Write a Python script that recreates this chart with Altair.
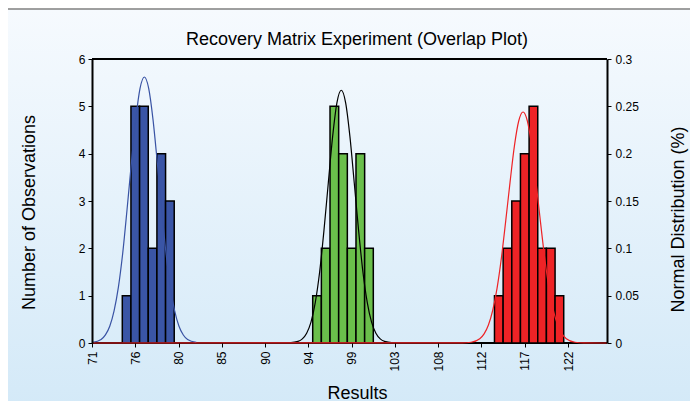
import altair as alt
import pandas as pd

# x positions are bin numbers along the category axis (bin 0 = label "71")
tick_bins = [0, 5, 10, 15, 20, 25, 30, 35, 40, 45, 50, 55]
tick_labels = ["71", "76", "80", "85", "90", "94", "99", "103", "108", "112", "117", "122"]

blue_bins = [4, 5, 6, 7, 8, 9]
blue_counts = [1, 5, 5, 2, 4, 3]
green_bins = [26, 27, 28, 29, 30, 31, 32]
green_counts = [1, 2, 5, 4, 2, 4, 2]
red_bins = [47, 48, 49, 50, 51, 52, 53, 54]
red_counts = [1, 2, 3, 4, 5, 2, 2, 1]

blue_curve_x = [0.05, 1.05, 1.55, 2.05, 2.55, 3.05, 3.55, 4.05, 4.55, 5.05, 5.55, 6.05,
                6.55, 7.05, 7.55, 8.05, 8.55, 9.05, 9.55, 10.05, 10.55, 11.05, 12.05]
blue_curve_y = [0.0006, 0.0037, 0.0085, 0.0177, 0.0340, 0.0590, 0.0950, 0.1410, 0.1900, 0.2360, 0.2690, 0.2810,
                0.2690, 0.2360, 0.1900, 0.1410, 0.0950, 0.0590, 0.0340, 0.0177, 0.0085, 0.0037, 0.0006]
green_curve_x = [22.8, 23.8, 24.3, 24.8, 25.3, 25.8, 26.3, 26.8, 27.3, 27.8, 28.3, 28.8,
                 29.3, 29.8, 30.3, 30.8, 31.3, 31.8, 32.3, 32.8, 33.3, 33.8, 34.8]
green_curve_y = [0.0002, 0.0017, 0.0044, 0.0104, 0.0220, 0.0430, 0.0750, 0.1190, 0.1690, 0.2180, 0.2540, 0.2670,
                 0.2540, 0.2180, 0.1690, 0.1190, 0.0750, 0.0430, 0.0220, 0.0104, 0.0044, 0.0017, 0.0002]
red_curve_x = [0, 42.8, 43.8, 44.8, 45.3, 45.8, 46.3, 46.8, 47.3, 47.8, 48.3, 48.8, 49.3, 49.8,
               50.3, 50.8, 51.3, 51.8, 52.3, 52.8, 53.3, 53.8, 54.3, 54.8, 55.8, 56.8, 59.5]
red_curve_y = [0, 0.0001, 0.0008, 0.0045, 0.0096, 0.0190, 0.0346, 0.0580, 0.0900, 0.1290, 0.1700, 0.2080, 0.2345, 0.2440,
               0.2345, 0.2080, 0.1700, 0.1290, 0.0900, 0.0580, 0.0346, 0.0190, 0.0096, 0.0045, 0.0008, 0.0001, 0]

chart_title = "Recovery Matrix Experiment (Overlap Plot)"

bars = pd.concat([
    pd.DataFrame({"bin": blue_bins, "count": blue_counts, "sample": "blue"}),
    pd.DataFrame({"bin": green_bins, "count": green_counts, "sample": "green"}),
    pd.DataFrame({"bin": red_bins, "count": red_counts, "sample": "red"}),
], ignore_index=True)

curves = pd.concat([
    pd.DataFrame({"x": blue_curve_x, "y": blue_curve_y, "curve": "blue"}),
    pd.DataFrame({"x": green_curve_x, "y": green_curve_y, "curve": "green"}),
    pd.DataFrame({"x": red_curve_x, "y": red_curve_y, "curve": "red"}),
], ignore_index=True)
curves["order"] = range(len(curves))

W, H = 515, 284
FONT = "Liberation Sans"

label_expr = "[" + ",".join("'" + t + "'" for t in tick_labels) + "][round(datum.value / 5)]"

x_scale = alt.Scale(domain=[0, 59.5], nice=False, zero=False)

one = pd.DataFrame({"a": [0]})

bg = alt.Chart(one).mark_rect(
    fill={"gradient": "linear", "x1": 0, "y1": 0, "x2": 0, "y2": 1,
          "stops": [{"offset": 0, "color": "#F6FAFE"}, {"offset": 1, "color": "#CFE7F7"}]},
    stroke="#808080", strokeWidth=1.5,
).encode(x=alt.value(-85), x2=alt.value(700), y=alt.value(-50), y2=alt.value(400))

title_layer = alt.Chart(pd.DataFrame({"t": [chart_title]})).mark_text(
    fontSize=18, font=FONT, color="black", align="center", baseline="alphabetic"
).encode(x=alt.value(265), y=alt.value(-14), text="t:N")

frame = alt.Chart(pd.DataFrame({"yy": [0, H]})).mark_rule(color="black", strokeWidth=2).encode(
    x=alt.value(0), x2=alt.value(W), y=alt.Y("yy:Q", scale=None))

bar_layer = alt.Chart(bars).transform_calculate(
    x0="datum.bin - 0.5", x1="datum.bin + 0.5"
).mark_rect(stroke="black", strokeWidth=1.5, opacity=1).encode(
    x=alt.X("x0:Q", scale=x_scale, axis=alt.Axis(
        values=tick_bins, labelExpr=label_expr, labelAngle=270, labelFontSize=12,
        labelPadding=4, tickSize=4, tickColor="black", domain=False,
        labelColor="black", grid=False, title="Results", titleFontSize=18,
        titleFontWeight="normal", titleColor="black", titleX=265, titleY=50,
        titleBaseline="middle", titleAlign="center", zindex=1)),
    x2="x1:Q",
    y=alt.Y("count:Q", scale=alt.Scale(domain=[0, 6], nice=False), axis=alt.Axis(
        values=[0, 1, 2, 3, 4, 5, 6], labelFontSize=12, labelPadding=3, tickSize=4,
        tickColor="black", domainColor="black", domainWidth=2, labelColor="black",
        grid=False, title="Number of Observations", titleFontSize=18,
        titleFontWeight="normal", titleColor="black", titleAngle=270,
        titleX=-63, titleY=153, titleBaseline="middle", titleAlign="center", zindex=1)),
    y2=alt.datum(0),
    fill=alt.Fill("sample:N", scale=alt.Scale(domain=["blue", "green", "red"],
                                              range=["#3A55A6", "#6ABF4B", "#EE2326"]), legend=None),
)

line_layer = alt.Chart(curves).mark_line(interpolate="monotone", strokeWidth=1.2).encode(
    x=alt.X("x:Q", scale=x_scale),
    y=alt.Y("y:Q", scale=alt.Scale(domain=[0, 0.3], nice=False), axis=alt.Axis(
        orient="right", values=[0, 0.05, 0.1, 0.15, 0.2, 0.25, 0.3], format="~g",
        labelFontSize=12, labelPadding=4, tickSize=4, tickColor="black", domainColor="black",
        domainWidth=2, labelColor="black", grid=False, title="Normal Distribution (%)",
        titleFontSize=18, titleFontWeight="normal", titleColor="black", titleAngle=270,
        titleX=71, titleY=160, titleBaseline="middle", titleAlign="center", zindex=1)),
    stroke=alt.Stroke("curve:N", scale=alt.Scale(domain=["blue", "green", "red"],
                                                 range=["#3953A4", "#000000", "#EE2326"]), legend=None),
    order="order:Q",
)

chart = alt.layer(bg, title_layer, frame, bar_layer, line_layer).resolve_scale(
    y="independent"
).properties(
    width=W, height=H,
    autosize="none",
    padding={"left": 84, "top": 51, "right": 83, "bottom": 58},
).configure(font=FONT).configure_view(strokeWidth=0)

chart.save("out.html", embed_options={"renderer": "svg", "actions": False})
